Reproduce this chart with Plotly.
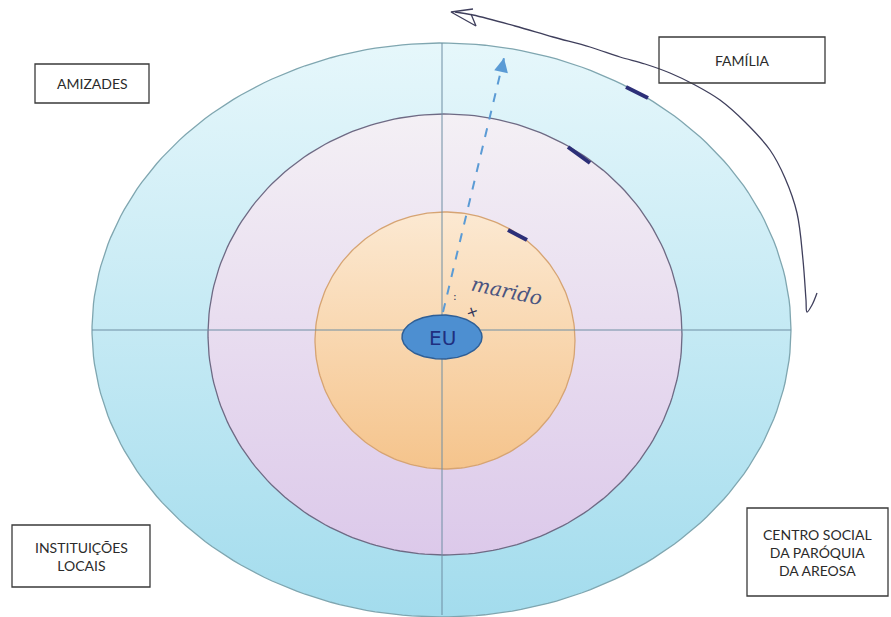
import numpy as np
import plotly.graph_objects as go

W, H = 891, 617

# Rings of the ecomap (centre x, centre y, radius x, radius y) in page pixels
ring_names = ["outer", "middle", "inner"]
ring_cx = [441.5, 445, 445]
ring_cy = [330, 334.5, 340.5]
ring_rx = [349.5, 237, 130]
ring_ry = [287, 220.5, 128.5]
ring_top_colors = ["#e6f7fb", "#f4f0f5", "#fce9d2"]
ring_bottom_colors = ["#a3dced", "#dcc9ea", "#f5c48c"]
ring_edge_colors = ["#7fa6b0", "#6e6a84", "#d6a473"]

# Centre "EU" ellipse
eu_cx, eu_cy, eu_rx, eu_ry = 442, 337, 40, 22

# Cross axes
hline_x = [92, 791]
hline_y = [330, 330]
vline_x = [442, 442]
vline_y = [43, 615]

# Category boxes
box_labels = ["AMIZADES", "FAMÍLIA", "INSTITUIÇÕES<br>LOCAIS", "CENTRO SOCIAL<br>DA PARÓQUIA<br>DA AREOSA"]
box_x0 = [35, 659, 12, 747]
box_x1 = [149, 825, 150, 888]
box_y0 = [64, 37, 525, 508]
box_y1 = [103, 83, 587, 596]

# Dashed relationship arrow (marido)
dash_x = [443, 504]
dash_y = [312, 58]

# Hand-drawn curved arrow
curve_x = [817, 812, 807, 806, 803, 797, 785, 770, 745, 720, 695, 670, 645, 620, 590, 553, 515, 473, 455]
curve_y = [293, 305, 312, 300, 260, 213, 178, 150, 122, 100, 85, 73, 64, 57, 47, 37, 26, 15, 12]

# Small pen marks on rings
mark_x0 = [626, 568, 508]
mark_y0 = [87, 147, 230]
mark_x1 = [648, 590, 527]
mark_y1 = [98, 163, 240]

fig = go.Figure()

t = np.linspace(0, 2 * np.pi, 240)
for name, cx, cy, rx, ry, ct, cb, ce in zip(ring_names, ring_cx, ring_cy, ring_rx, ring_ry,
                                            ring_top_colors, ring_bottom_colors, ring_edge_colors):
    xs = cx + rx * np.cos(t)
    ys = cy + ry * np.sin(t)
    fig.add_trace(go.Scatter(
        x=xs, y=ys, mode="lines", fill="toself",
        line=dict(color=ce, width=1.3),
        fillgradient=dict(type="vertical", start=cy - ry, stop=cy + ry,
                          colorscale=[[0, ct], [1, cb]]),
        hoverinfo="skip", showlegend=False, name=name))

# Axis lines
fig.add_trace(go.Scatter(x=hline_x, y=hline_y, mode="lines", line=dict(color="#6f8ea3", width=1),
                         hoverinfo="skip", showlegend=False))
fig.add_trace(go.Scatter(x=vline_x, y=vline_y, mode="lines", line=dict(color="#6f8ea3", width=1),
                         hoverinfo="skip", showlegend=False))

# EU ellipse
fig.add_trace(go.Scatter(
    x=eu_cx + eu_rx * np.cos(t), y=eu_cy + eu_ry * np.sin(t), mode="lines", fill="toself",
    fillcolor="#4d8fd1", line=dict(color="#2f5f96", width=1.5),
    hoverinfo="skip", showlegend=False))

# Dashed arrow
fig.add_trace(go.Scatter(x=dash_x, y=dash_y, mode="lines", line=dict(color="#5b9bd5", width=2, dash="dash"),
                         hoverinfo="skip", showlegend=False))
fig.add_annotation(x=dash_x[1], y=dash_y[1], ax=dash_x[1] - 3, ay=dash_y[1] + 14, xref="x", yref="y",
                   axref="x", ayref="y", showarrow=True, arrowhead=2, arrowsize=1.4, arrowwidth=2,
                   arrowcolor="#5b9bd5", text="")

# Hand-drawn curve
fig.add_trace(go.Scatter(x=curve_x, y=curve_y, mode="lines", line=dict(color="#3f3f5c", width=1.3, shape="spline"),
                         hoverinfo="skip", showlegend=False))
# open arrowhead of curve
fig.add_trace(go.Scatter(x=[473, 451, 476, 471], y=[9, 12, 26, 14], mode="lines",
                         line=dict(color="#3f3f5c", width=1.3), hoverinfo="skip", showlegend=False))

# Pen marks
for x0, y0, x1, y1 in zip(mark_x0, mark_y0, mark_x1, mark_y1):
    fig.add_trace(go.Scatter(x=[x0, x1], y=[y0, y1], mode="lines",
                             line=dict(color="#2c2f78", width=4), hoverinfo="skip", showlegend=False))

# Boxes with labels
for lab, x0, x1, y0, y1 in zip(box_labels, box_x0, box_x1, box_y0, box_y1):
    fig.add_shape(type="rect", x0=x0, x1=x1, y0=y0, y1=y1, xref="x", yref="y",
                  line=dict(color="#3a3a3a", width=1.3), fillcolor="rgba(255,255,255,0)")
    fig.add_annotation(x=(x0 + x1) / 2, y=(y0 + y1) / 2, xref="x", yref="y", text=lab, showarrow=False,
                       font=dict(family="Lato, Open Sans, sans-serif", size=14, color="#2b2b2b"),
                       align="center")

# Handwritten texts
fig.add_annotation(x=eu_cx, y=eu_cy + 1, xref="x", yref="y", text="EU", showarrow=False,
                   font=dict(family="DejaVu Sans", size=20, color="#1f2f80"))
fig.add_annotation(x=507, y=291, xref="x", yref="y", text="<i>marido</i>", showarrow=False, textangle=12,
                   font=dict(family="DejaVu Serif", size=20, color="#4a5480"))
fig.add_annotation(x=472, y=312, xref="x", yref="y", text="+", showarrow=False, textangle=-20,
                   font=dict(family="DejaVu Sans", size=15, color="#30335a"))
fig.add_annotation(x=455, y=296, xref="x", yref="y", text=":", showarrow=False,
                   font=dict(family="DejaVu Sans", size=11, color="#30335a"))

fig.update_xaxes(range=[0, W], visible=False, fixedrange=True)
fig.update_yaxes(range=[H, 0], visible=False, fixedrange=True)
fig.update_layout(width=W, height=H, margin=dict(l=0, r=0, t=0, b=0),
                  plot_bgcolor="#ffffff", paper_bgcolor="#ffffff", showlegend=False)

fig.write_html("out.html", config={"displayModeBar": False},
               post_script="document.body.style.margin='0';document.body.style.padding='0';")
